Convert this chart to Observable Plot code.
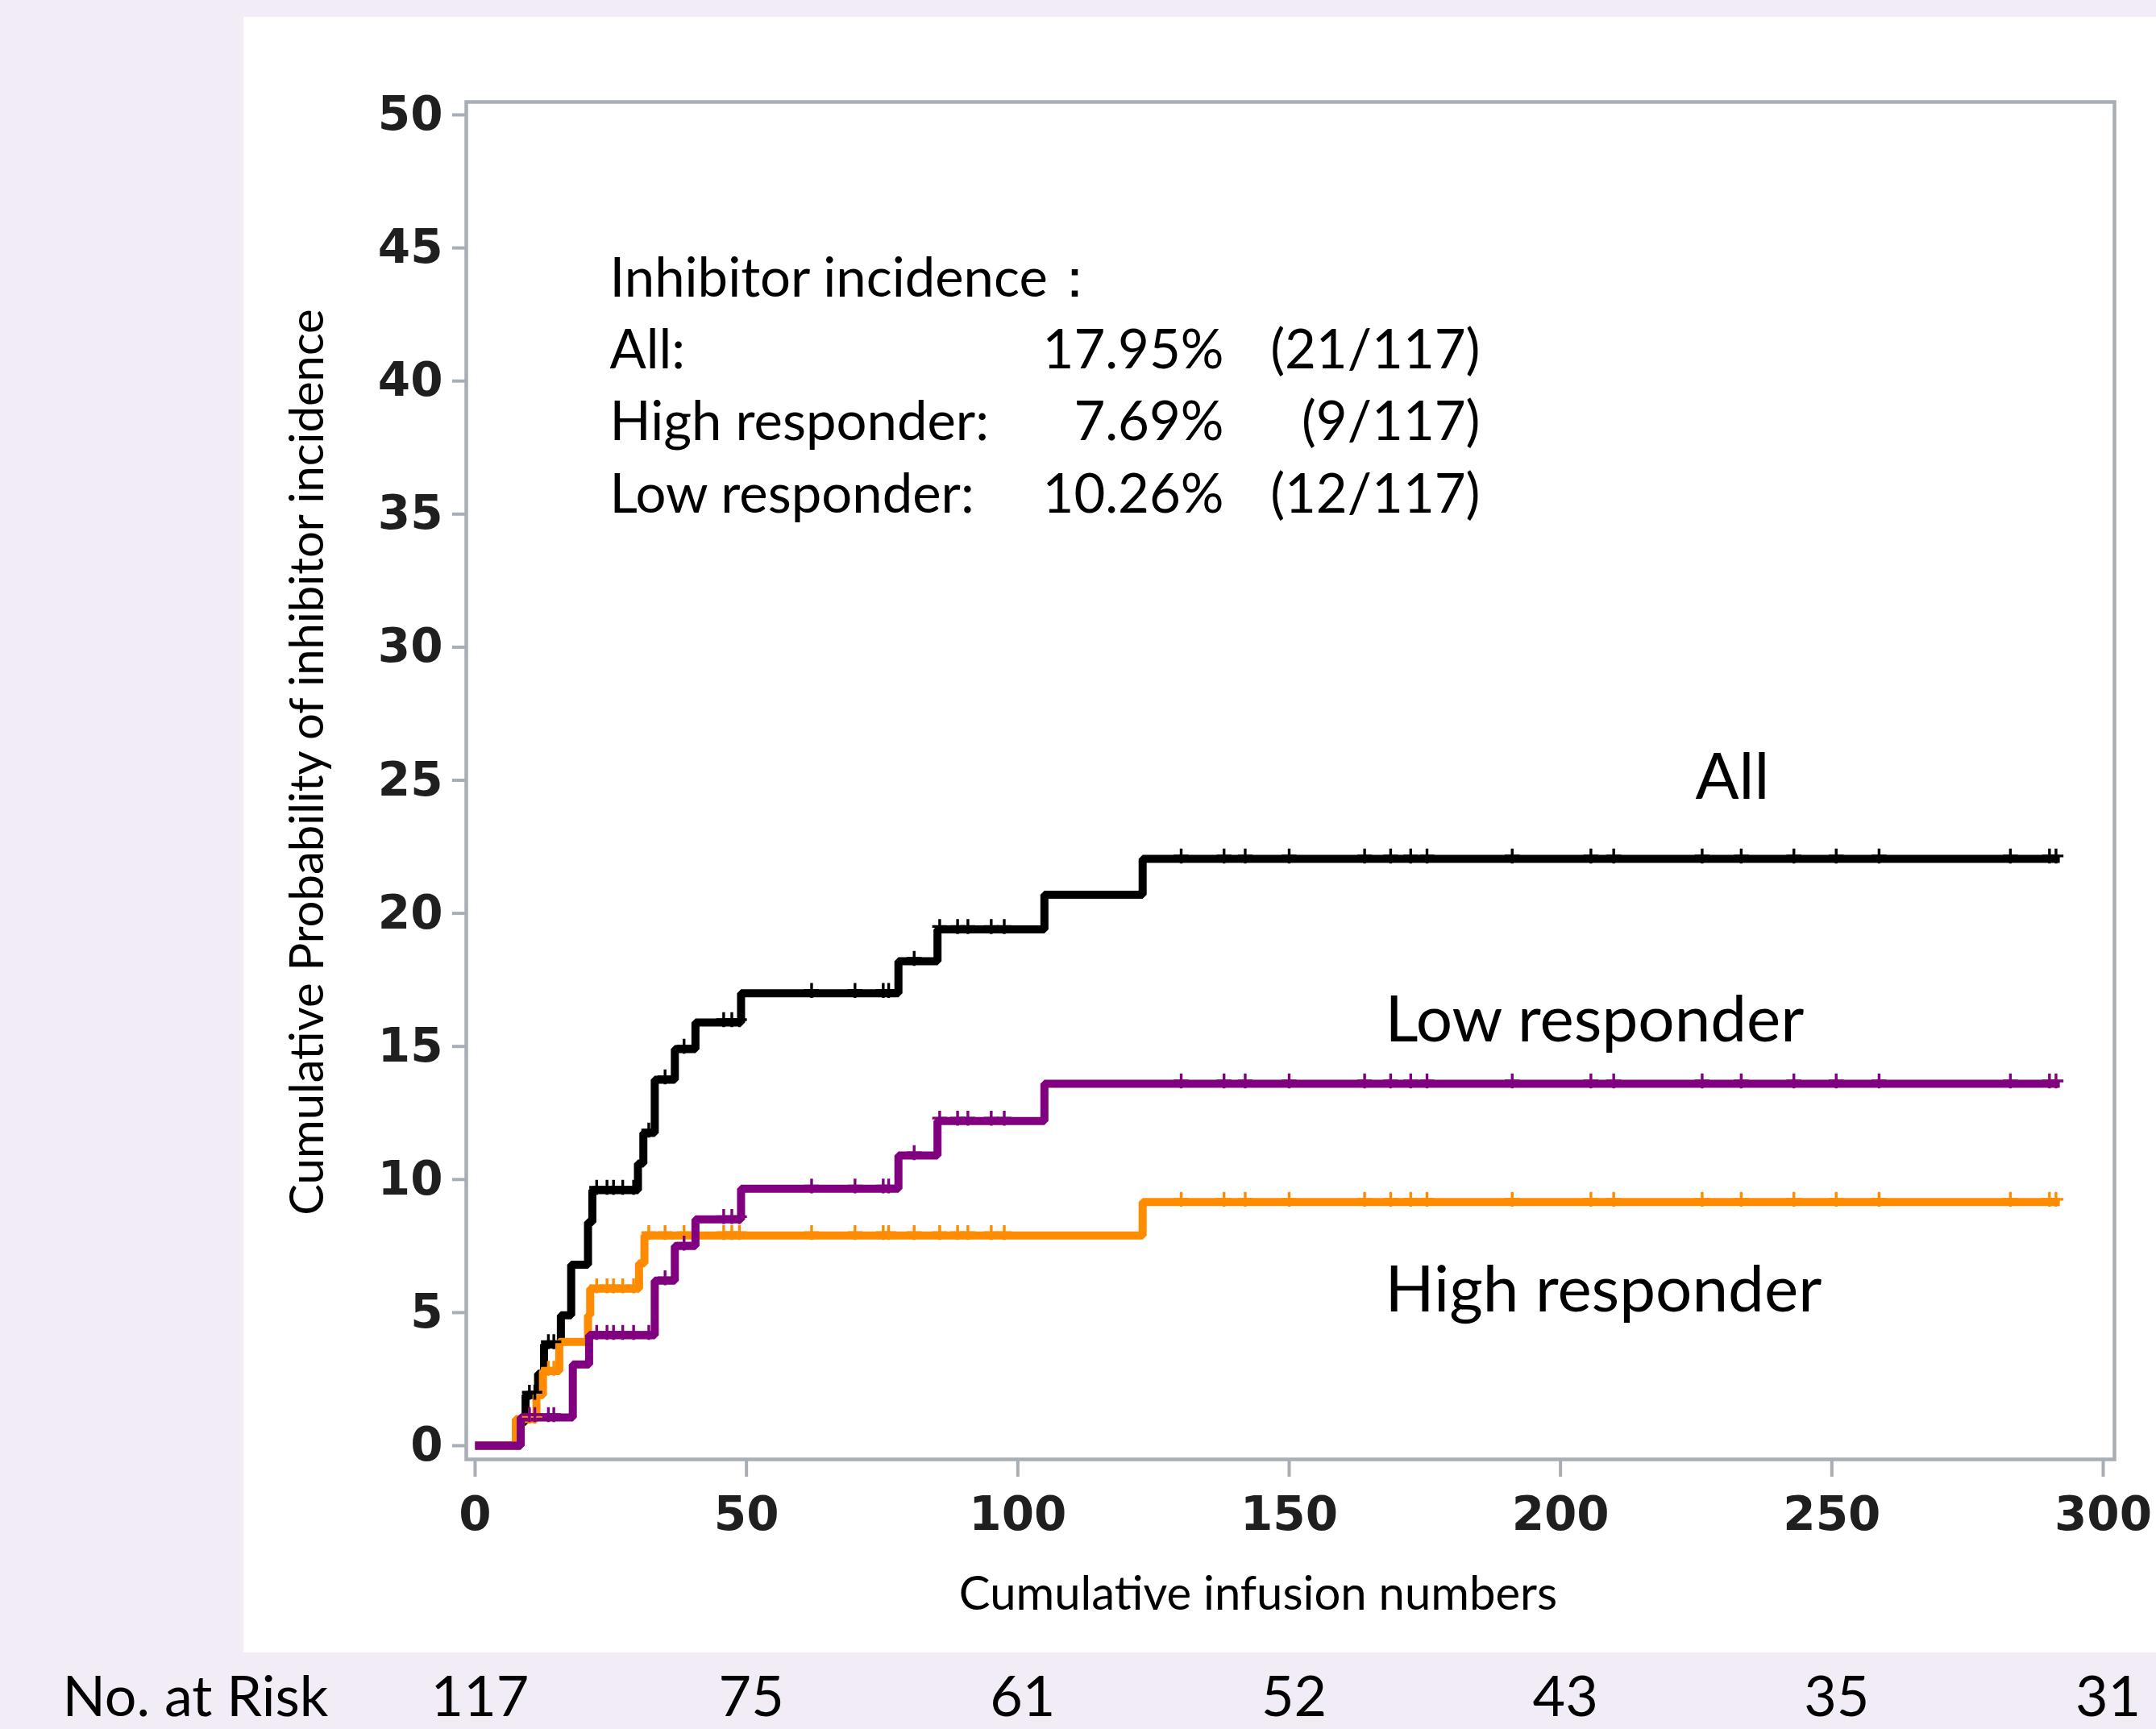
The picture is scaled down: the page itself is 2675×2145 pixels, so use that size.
<!DOCTYPE html>
<html>
<head>
<meta charset="utf-8">
<script src="https://cdn.jsdelivr.net/npm/d3@7"></script>
<script src="https://cdn.jsdelivr.net/npm/@observablehq/plot@0.6"></script>
<style>
  html, body { margin: 0; padding: 0; background: #F1ECF6; }
  #wrap { position: relative; width: 2675px; height: 2145px; overflow: hidden; background: #F1ECF6; }
  #panel { position: absolute; left: 302px; top: 21px; width: 2373px; height: 2029px; background: #ffffff; }
  #chart { position: absolute; left: 0; top: 0; }
</style>
</head>
<body>
<div id="wrap"><div id="panel"></div><div id="chart"></div></div>
<script>
// ---------------- data ----------------
const seriesNames = ["All", "High responder", "Low responder"];
const seriesColors = ["#000000", "#FF8C00", "#800080"];

const allTimes = [0, 8.3, 9.3, 11.6, 12.7, 15.8, 17.7, 20.8, 21.6, 30.0, 31.0, 33.1, 36.8, 40.6, 49.0, 78.0, 85.2, 104.9, 123.0, 292];
const allProb  = [0, 0.9, 1.9, 2.7, 3.8, 4.9, 6.8, 8.4, 9.6, 10.6, 11.75, 13.75, 14.9, 15.9, 17.0, 18.2, 19.4, 20.7, 22.05, 22.05];

const highTimes = [0, 7.5, 11.3, 12.5, 15.5, 20.8, 21.2, 30.2, 31.2, 123.0, 292];
const highProb  = [0, 1.0, 1.9, 2.8, 3.9, 4.9, 5.9, 6.85, 7.9, 9.15, 9.15];

const lowTimes = [0, 8.4, 18.0, 21.0, 33.1, 36.8, 40.6, 49.0, 78.0, 85.2, 104.9, 292];
const lowProb  = [0, 1.06, 3.05, 4.15, 6.2, 7.5, 8.5, 9.65, 10.9, 12.2, 13.6, 13.6];

const censorTimes = [10.0, 11.0, 13.5, 14.5, 22.4, 24.3, 25.5, 27.2, 29.2, 32.0, 35.0, 38.5, 45.8, 47.3, 48.7,
  62.0, 70.0, 75.2, 76.2, 80.9, 85.6, 88.9, 90.8, 95.1, 97.5, 130.1, 138.0, 141.9, 150.0, 163.9, 168.7,
  172.4, 175.4, 191.1, 205.6, 209.8, 226.1, 233.3, 243.0, 250.8, 258.7, 282.9, 290.1, 291.3];

const xTicks = [0, 50, 100, 150, 200, 250, 300];
const yTicks = [0, 5, 10, 15, 20, 25, 30, 35, 40, 45, 50];

const riskTimes = [0, 50, 100, 150, 200, 250, 300];
const riskCounts = [117, 75, 61, 52, 43, 35, 31];
const riskTitle = "No. at Risk";

const incHeader = "Inhibitor incidence：";
const incRows = ["All:", "High responder:", "Low responder:"];
const incPct = ["17.95%", "7.69%", "10.26%"];
const incFrac = ["(21/117)", "(9/117)", "(12/117)"];

const xLabel = "Cumulative infusion numbers";
const yLabel = "Cumulative Probability of inhibitor incidence";

// ---------------- build tables ----------------
const curves = [[allTimes, allProb], [highTimes, highProb], [lowTimes, lowProb]];
const lineData = [];
curves.forEach(([T, P], k) => T.forEach((t, i) => lineData.push({name: seriesNames[k], t, p: P[i]})));

function stepAt(T, P, t) { let v = P[0]; for (let i = 0; i < T.length; i++) if (T[i] <= t) v = P[i]; return v; }
const censorData = [];
curves.forEach(([T, P], k) => censorTimes.forEach(t => censorData.push({name: seriesNames[k], t, p: stepAt(T, P, t)})));

const riskData = riskTimes.map((t, i) => ({t, n: String(riskCounts[i])}));

// ---------------- layout ----------------
const W = 2675, H = 2145;
const mL = 578, mR = 52, mT = 126, mB = 335;
const pxX = 2020 / 300, pxY = 1651 / 50;
const xDomain = [-(589 - mL) / pxX, 300 + (W - mR - 2609) / pxX];
const yDomain = [-(H - mB - 1793) / pxY, 50 + (142 - mT) / pxY];

const gridGrey = "#A9AEB5";
const calib = "Lato, 'Open Sans', sans-serif";
const tickFont = "'DejaVu Sans', sans-serif";

const plot = Plot.plot({
  width: W, height: H,
  marginLeft: mL, marginRight: mR, marginTop: mT, marginBottom: mB,
  style: {background: "transparent", fontFamily: tickFont, fontSize: "58px", color: "#1a1a1a", overflow: "visible"},
  x: {domain: xDomain},
  y: {domain: yDomain},
  color: {domain: seriesNames, range: seriesColors},
  marks: [
    Plot.frame({stroke: gridGrey, strokeWidth: 4.5}),
    Plot.axisY({ticks: yTicks, tickSize: 17, tickPadding: 12, stroke: gridGrey, strokeWidth: 4, fill: "#1f1f1f", fontSize: 58, fontWeight: "bold", label: null}),
    Plot.axisX({ticks: xTicks, tickSize: 22, tickPadding: 24, stroke: gridGrey, strokeWidth: 4, fill: "#1f1f1f", fontSize: 58, fontWeight: "bold", label: null}),
    Plot.line(lineData, {x: "t", y: "p", z: "name", stroke: "name", strokeWidth: 10, curve: "step-after", strokeLinejoin: "miter", strokeLinecap: "butt"}),
    Plot.dot(censorData, {x: "t", y: "p", stroke: "name", symbol: "plus", r: 6, strokeWidth: 3.4, dy: -3.5}),
    // annotation block
    Plot.text([[incHeader, ...incRows].join("\n")], {frameAnchor: "top-left", dx: 178, dy: 509, textAnchor: "start", lineAnchor: "bottom", lineHeight: 1.33, fontFamily: calib, fontSize: 67, fill: "#000"}),
    Plot.text([["", ...incPct].join("\n")], {frameAnchor: "top-left", dx: 940, dy: 509, textAnchor: "end", lineAnchor: "bottom", lineHeight: 1.33, fontFamily: calib, fontSize: 67, fill: "#000"}),
    Plot.text([["", ...incFrac].join("\n")], {frameAnchor: "top-left", dx: 1258, dy: 509, textAnchor: "end", lineAnchor: "bottom", lineHeight: 1.33, fontFamily: calib, fontSize: 67, fill: "#000"}),
    // curve labels
    Plot.text([seriesNames[0]], {frameAnchor: "top-left", dx: 1525, dy: 864, textAnchor: "start", lineAnchor: "bottom", fontFamily: calib, fontSize: 80, fill: "#000"}),
    Plot.text([seriesNames[2]], {frameAnchor: "top-left", dx: 1140, dy: 1165, textAnchor: "start", lineAnchor: "bottom", fontFamily: calib, fontSize: 80, fill: "#000"}),
    Plot.text([seriesNames[1]], {frameAnchor: "top-left", dx: 1140, dy: 1500, textAnchor: "start", lineAnchor: "bottom", fontFamily: calib, fontSize: 80, fill: "#000"}),
    // axis titles
    Plot.text([xLabel], {frameAnchor: "bottom", dx: -40, dy: 186, lineAnchor: "bottom", fontFamily: calib, fontSize: 58, fill: "#000"}),
    Plot.text([yLabel], {ariaLabel: "ylabel", frameAnchor: "left", dx: -196, dy: -23, rotate: -90, textAnchor: "middle", lineAnchor: "middle", fontFamily: calib, fontSize: 58, fill: "#000"}),
    // number at risk
    Plot.text(riskData, {ariaLabel: "risk", x: "t", text: "n", frameAnchor: "bottom", dx: 6, dy: 318, textAnchor: "middle", lineAnchor: "bottom", fontFamily: calib, fontSize: 70, fill: "#000"}),
    Plot.text([riskTitle], {ariaLabel: "risktitle", frameAnchor: "bottom-left", dx: -501, dy: 318, textAnchor: "start", lineAnchor: "bottom", fontFamily: calib, fontSize: 70, fill: "#000"})
  ]
});
document.getElementById("chart").appendChild(plot);

// condensed lettering (the reference uses horizontally compressed type for these)
function condense(label, f, target) {
  plot.querySelectorAll(`g[aria-label="${label}"] text`).forEach(t => {
    t.removeAttribute("textLength");
    const w = t.getComputedTextLength();
    if (w > 0) {
      t.setAttribute("textLength", (target ? target : w * f).toFixed(1));
      t.setAttribute("lengthAdjust", "spacingAndGlyphs");
    }
  });
}
function applyCondense() {
  condense("ylabel", 1, 1190);
  condense("risk", 0.86);
  condense("risktitle", 1, 322);
}
applyCondense();
if (document.fonts && document.fonts.ready) document.fonts.ready.then(applyCondense);
</script>
</body>
</html>
